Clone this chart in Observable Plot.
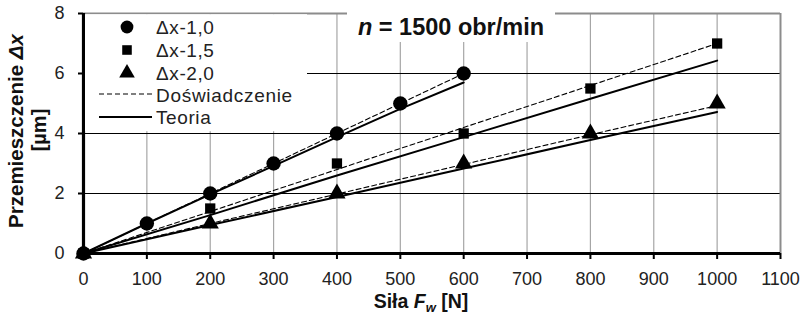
<!DOCTYPE html>
<html>
<head>
<meta charset="utf-8">
<script src="https://cdn.jsdelivr.net/npm/d3@7"></script>
<script src="https://cdn.jsdelivr.net/npm/@observablehq/plot@0.6"></script>
<style>
  html, body { margin: 0; padding: 0; background: #fff; }
  svg { display: block; }
</style>
</head>
<body>
<div id="chart"></div>
<script>
// ---- data ----
const forceA = [0, 100, 200, 300, 400, 500, 600];          // Δx-1,0 forces [N]
const forceB = [0, 200, 400, 600, 800, 1000];              // Δx-1,5 and Δx-2,0 forces [N]
const measured10 = [0, 1, 2, 3, 4, 5, 6];                  // Δx-1,0 measured [µm]
const measured15 = [0, 1.5, 3, 4, 5.5, 7];                 // Δx-1,5 measured [µm]
const measured20 = [0, 1, 2, 3, 4, 5];                     // Δx-2,0 measured [µm]
const trend10 = [0, 1, 2, 3, 4, 5, 6];                     // Doświadczenie (dashed)
const trend15 = [0, 1.4, 2.8, 4.2, 5.6, 7.0];
const trend20 = [0, 1, 1.98, 2.97, 3.96, 4.93];
const theory10 = [0, 1.0, 1.97, 2.92, 3.88, 4.82, 5.7];     // Teoria (solid)
const theory15 = [0, 1.28, 2.6, 3.88, 5.16, 6.43];
const theory20 = [0, 0.95, 1.88, 2.83, 3.78, 4.72];
const xTicks = [0, 100, 200, 300, 400, 500, 600, 700, 800, 900, 1000, 1100];
const yTicks = [0, 2, 4, 6, 8];
const seriesNames = ["Δx-1,0", "Δx-1,5", "Δx-2,0"];
const lineNames = ["Doświadczenie", "Teoria"];
const titleValue = "1500 obr/min";

const toRows = (xs, ys) => xs.map((x, i) => ({x, y: ys[i]}));
const m10 = toRows(forceA, measured10), m15 = toRows(forceB, measured15), m20 = toRows(forceB, measured20);
const t10 = toRows(forceA, trend10), t15 = toRows(forceB, trend15), t20 = toRows(forceB, trend20);
const h10 = toRows(forceA, theory10), h15 = toRows(forceB, theory15), h20 = toRows(forceB, theory20);

const FONT = "'Liberation Sans', Arial, Helvetica, sans-serif";
const R = {circle: 7.2, square: 5.8, triangle: 6.4};

const svg = Plot.plot({
  width: 806,
  height: 320,
  marginLeft: 83,
  marginRight: 26,
  marginTop: 13,
  marginBottom: 67,
  style: {fontFamily: FONT, background: "#fff", overflow: "visible"},
  x: {domain: [0, 1100]},
  y: {domain: [0, 8]},
  marks: [
    // grid
    Plot.ruleX(xTicks.filter(d => d > 0 && d < 1100), {stroke: "#a6a6a6", strokeWidth: 1.2}),
    Plot.ruleY(yTicks.filter(d => d > 0 && d < 8), {stroke: "#000", strokeWidth: 1.2}),
    Plot.ruleY([8], {stroke: "#8c8c8c", strokeWidth: 2}),
    Plot.ruleX([1100], {stroke: "#8c8c8c", strokeWidth: 2}),
    // axes
    Plot.axisX({ticks: xTicks, tickSize: 6, tickPadding: 13, fontSize: 18, tickFormat: d => String(d), label: null, stroke: "#000", strokeWidth: 2, color: "#222"}),
    Plot.axisY({ticks: yTicks, tickSize: 5, tickPadding: 14, fontSize: 18, tickFormat: d => String(d), label: null, stroke: "#000", strokeWidth: 2, color: "#222"}),
    Plot.ruleY([0], {stroke: "#000", strokeWidth: 3.2}),
    Plot.ruleX([0], {stroke: "#000", strokeWidth: 3.2}),
    // Doświadczenie (dashed)
    Plot.line(t10, {x: "x", y: "y", stroke: "#000", strokeWidth: 1.1, strokeDasharray: "5,3"}),
    Plot.line(t15, {x: "x", y: "y", stroke: "#000", strokeWidth: 1.1, strokeDasharray: "5,3"}),
    Plot.line(t20, {x: "x", y: "y", stroke: "#000", strokeWidth: 1.1, strokeDasharray: "5,3"}),
    // Teoria (solid)
    Plot.line(h10, {x: "x", y: "y", stroke: "#000", strokeWidth: 2}),
    Plot.line(h15, {x: "x", y: "y", stroke: "#000", strokeWidth: 2}),
    Plot.line(h20, {x: "x", y: "y", stroke: "#000", strokeWidth: 2}),
    // markers
    Plot.dot(m10, {x: "x", y: "y", symbol: "circle", r: R.circle, fill: "#000"}),
    Plot.dot(m15, {x: "x", y: "y", symbol: "square", r: R.square, fill: "#000"}),
    Plot.dot(m20, {x: "x", y: "y", symbol: "triangle", r: R.triangle, fill: "#000"})
  ]
});

document.getElementById("chart").appendChild(svg);

// ---- annotations: legend, title, axis titles ----
const s = d3.select(svg);
const xsc = svg.scale("x"), ysc = svg.scale("y");
const pLeft = xsc.apply(0), pTop = ysc.apply(8), pBottom = ysc.apply(0);

// legend box (white, covers grid)
const lg = s.append("g").attr("font-family", FONT).attr("text-anchor", "start");
lg.append("rect").attr("x", pLeft + 2).attr("y", pTop + 1.2).attr("width", 222).attr("height", 117).attr("fill", "#fff");
const rowY = [27, 50, 73, 95, 117];
const symX = 127, textX = 156;
const syms = [d3.symbolCircle, d3.symbolSquare, d3.symbolTriangle];
const rs = [6.4, 5.4, 5.8];
seriesNames.forEach((name, i) => {
  lg.append("path")
    .attr("d", d3.symbol(syms[i], Math.PI * rs[i] * rs[i])())
    .attr("transform", `translate(${symX},${rowY[i]})`)
    .attr("fill", "#000");
  lg.append("text").attr("x", textX).attr("y", rowY[i]).attr("dy", "0.35em")
    .attr("font-size", 19).attr("letter-spacing", 0.6).attr("fill", "#222").text(name);
});
lg.append("line").attr("x1", 99).attr("x2", 152).attr("y1", 94).attr("y2", 94)
  .attr("stroke", "#000").attr("stroke-width", 1.1).attr("stroke-dasharray", "5,3");
lg.append("text").attr("x", textX).attr("y", rowY[3]).attr("dy", "0.35em")
  .attr("font-size", 19).attr("letter-spacing", 0.7).attr("fill", "#222").text(lineNames[0]);
lg.append("line").attr("x1", 99).attr("x2", 152).attr("y1", 117).attr("y2", 117)
  .attr("stroke", "#000").attr("stroke-width", 2);
lg.append("text").attr("x", textX).attr("y", rowY[4]).attr("dy", "0.35em")
  .attr("font-size", 19).attr("letter-spacing", 0.6).attr("fill", "#222").text(lineNames[1]);

// title box
const tg = s.append("g").attr("font-family", FONT);
tg.append("rect").attr("x", 347).attr("y", pTop - 3).attr("width", 208).attr("height", 32).attr("fill", "#fff");
const tt = tg.append("text").attr("x", 451).attr("y", 34.5).attr("text-anchor", "middle")
  .attr("font-size", 23.5).attr("font-weight", "bold").attr("fill", "#111");
tt.append("tspan").attr("font-style", "italic").text("n");
tt.append("tspan").text(" = " + titleValue);

// y axis title
const yl = s.append("g").attr("font-family", FONT).attr("font-weight", "bold").attr("fill", "#111");
const yl1 = yl.append("text").attr("transform", `translate(23,${(pTop + pBottom) / 2 - 2}) rotate(-90)`)
  .attr("text-anchor", "middle").attr("font-size", 20.5);
yl1.append("tspan").text("Przemieszczenie ");
yl1.append("tspan").attr("font-style", "italic").text("Δx");
yl.append("text").attr("transform", `translate(46,${(pTop + pBottom) / 2 - 3}) rotate(-90)`)
  .attr("text-anchor", "middle").attr("font-size", 20).text("[µm]");

// x axis title
const xl = s.append("text").attr("font-family", FONT).attr("font-weight", "bold").attr("fill", "#111")
  .attr("x", 421).attr("y", 308).attr("text-anchor", "middle").attr("font-size", 19.5);
xl.append("tspan").text("Siła ");
xl.append("tspan").attr("font-style", "italic").text("F");
xl.append("tspan").attr("font-style", "italic").attr("font-size", 13).attr("dy", 4).text("w");
xl.append("tspan").attr("dy", -4).text(" [N]");
</script>
</body>
</html>
